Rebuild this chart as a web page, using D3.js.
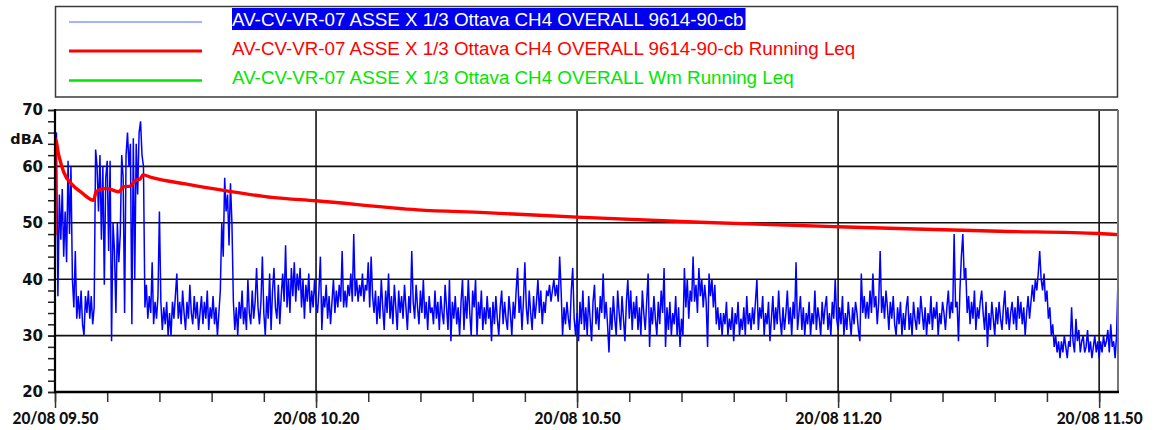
<!DOCTYPE html>
<html>
<head>
<meta charset="utf-8">
<script src="https://cdn.jsdelivr.net/npm/d3@7"></script>
<style>
  html, body { margin: 0; padding: 0; background: #fff; }
  svg { display: block; }
</style>
</head>
<body>
<svg id="chart" width="1159" height="430"></svg>
<script>
// ---- data -------------------------------------------------------------
const seriesNames = [
  "AV-CV-VR-07 ASSE X 1/3 Ottava CH4 OVERALL 9614-90-cb",
  "AV-CV-VR-07 ASSE X 1/3 Ottava CH4 OVERALL 9614-90-cb Running Leq",
  "AV-CV-VR-07 ASSE X 1/3 Ottava CH4 OVERALL Wm Running Leq"
];
const seriesColors = ["#0000ff", "#ff0000", "#00e600"];

// measurement start and sampling step of the level record
const startTime = new Date(2021, 7, 20, 9, 50, 0);
const sampleSeconds = 10;

// sound level, dBA, one value every 10 s from 20/08 09.50
const levelValues = [
  65,66,37,55,47,56,44,52,43,61,48,60,40,35,45,33,37,33,38,32,
  30,37,34,38,33,37,32,35,63,60,52,62,47,60,39,58,61,45,61,29,
  50,45,34,50,43,48,62,58,34,62,66,60,64,32,65,40,64,55,66,68,
  62,60,35,39,33,37,34,43,32,36,33,37,52,36,31,35,32,36,30,34,
  30,36,33,37,41,33,36,32,38,34,31,36,33,39,34,32,37,33,36,31,
  34,37,32,36,33,38,31,35,33,37,32,35,30,34,38,50,44,58,52,55,
  46,57,50,36,31,35,30,36,33,38,32,35,31,40,34,32,38,33,36,42,
  35,32,36,44,34,30,37,33,41,31,38,42,35,33,39,32,37,41,36,46,
  35,40,34,42,37,43,36,41,38,42,35,40,33,39,36,41,34,38,35,40,
  36,34,38,44,31,37,35,39,33,37,32,36,40,34,38,35,39,36,45,35,
  38,35,39,37,41,36,48,37,40,36,39,37,41,36,39,38,43,35,44,37,
  34,38,32,37,33,40,35,31,38,34,41,33,37,32,39,35,31,38,34,37,
  33,39,35,31,37,34,45,36,33,39,35,32,38,34,40,33,36,31,37,34,
  35,32,38,33,36,31,37,34,32,39,35,31,40,29,36,33,37,32,35,30,
  36,40,31,37,33,40,34,30,38,35,40,30,36,33,38,31,35,32,37,33,
  35,29,36,32,37,33,30,35,38,32,36,33,31,37,34,30,36,33,38,42,
  34,37,31,36,43,35,32,38,34,31,37,33,36,40,34,38,32,36,34,38,
  37,39,36,38,40,37,39,36,44,38,30,35,32,36,33,31,38,42,33,30,
  34,29,36,32,38,31,35,30,37,33,29,36,39,32,35,31,37,34,41,33,
  36,32,27,35,31,37,33,30,38,34,31,37,33,29,36,40,33,38,31,36,
  33,37,31,35,30,38,34,31,36,41,28,35,32,37,33,30,36,32,38,34,
  42,28,35,31,36,30,34,32,37,30,35,28,33,30,42,35,40,33,38,36,
  44,36,39,34,42,37,40,35,39,36,28,41,37,40,35,39,32,35,31,34,
  30,34,32,36,30,33,31,35,29,34,32,36,30,33,31,35,30,37,32,34,
  31,35,32,36,40,31,35,33,37,30,34,32,36,29,33,37,31,35,32,38,
  33,30,35,31,34,38,32,35,30,36,33,43,31,34,37,31,35,30,34,32,
  36,30,34,32,38,31,35,33,30,36,32,35,37,31,34,30,36,33,40,33,
  31,35,32,37,30,34,31,36,33,30,35,32,36,34,31,29,41,34,37,33,
  36,33,38,34,41,35,37,32,36,45,34,37,33,38,35,31,36,33,37,32,
  30,35,32,36,30,34,31,35,37,31,34,30,36,33,31,35,32,37,34,31,
  35,30,34,32,37,31,35,33,36,30,34,32,36,34,31,35,38,33,36,34,
  48,35,36,29,38,44,48,40,42,34,37,32,36,33,38,31,35,33,36,38,
  34,31,36,28,34,31,36,33,30,35,32,36,33,31,35,38,32,35,31,34,
  36,32,35,31,37,33,36,32,35,30,34,37,33,36,39,36,40,38,41,45,
  40,38,41,36,38,33,35,30,32,28,30,27,29,26,29,27,30,28,26,29,
  28,35,29,27,33,29,31,27,29,30,27,28,31,27,29,26,28,30,27,29,
  26,29,27,30,28,29,31,27,32,28,29,26,30,40
];

// running Leq, dBA, at minutes after 09.50
const leqMinutes = [0, 0.03, 0.43, 1.0, 1.95, 3.1, 4.45, 4.71, 5.02, 5.98, 7.32, 7.9, 8.66, 9.23, 9.8, 10.1,
  11.15, 14.98, 19.57, 24.94, 30, 41.7, 49.4, 60, 74.1, 90, 98.9, 108.6, 120, 122.17];
const leqValues = [47.8, 64.9, 62.0, 59.0, 56.8, 55.3, 54.0, 55.5, 55.8, 56.1, 55.5, 56.4, 56.5, 57.5, 57.8, 58.5,
  58.0, 56.9, 55.7, 54.5, 53.9, 52.3, 51.8, 51.0, 50.1, 49.3, 48.9, 48.5, 48.1, 47.9];

const yTicks = [20, 30, 40, 50, 60, 70];
const yTickLabels = ["20", "30", "40", "50", "60", "70"];
const yUnit = "dBA";
const xTickMinutes = [0, 30, 60, 90, 120];
const xTickLabels = ["20/08 09.50", "20/08 10.20", "20/08 10.50", "20/08 11.20", "20/08 11.50"];
const xMinorStep = 6; // minutes between minor ticks

// ---- layout -------------------------------------------------------------
const plot = { left: 55, right: 1118, top: 110, bottom: 392 };
const svg = d3.select("#chart");

const atMinute = m => new Date(+startTime + m * 60000);
const endTime = new Date(+startTime + (levelValues.length - 1) * sampleSeconds * 1000);

const x = d3.scaleTime().domain([startTime, endTime]).range([plot.left, plot.right]);
const y = d3.scaleLinear().domain([20, 70]).range([plot.bottom, plot.top]);

svg.append("defs").append("clipPath").attr("id", "plot-clip")
  .append("rect")
  .attr("x", plot.left).attr("y", plot.top)
  .attr("width", plot.right - plot.left).attr("height", plot.bottom - plot.top);

// ---- legend -------------------------------------------------------------
const legend = svg.append("g");
legend.append("rect")
  .attr("x", 55.5).attr("y", 6.5).attr("width", 1062).attr("height", 90.5)
  .attr("fill", "#fff").attr("stroke", "#3a3a3a").attr("stroke-width", 1.5);

const legendRows = [26, 55, 84];
const legendLineY = [22, 51, 80.5];
const legendLineW = [1.2, 3.2, 2.6];
const legendSwatch = ["#4466ff", seriesColors[1], seriesColors[2]];

seriesNames.forEach((name, i) => {
  legend.append("line")
    .attr("x1", 69).attr("x2", 202)
    .attr("y1", legendLineY[i]).attr("y2", legendLineY[i])
    .attr("stroke", legendSwatch[i]).attr("stroke-width", legendLineW[i]);
  const t = legend.append("text")
    .attr("x", 232).attr("y", legendRows[i])
    .attr("font-family", "'Liberation Sans', Arial, sans-serif")
    .attr("font-size", 18.8)
    .attr("fill", i === 0 ? "#fff" : seriesColors[i])
    .text(name);
  if (i === 0) {
    const bb = t.node().getBBox();
    legend.insert("rect", function () { return t.node(); })
      .attr("x", 232).attr("y", 8)
      .attr("width", bb.width + 2).attr("height", 22)
      .attr("fill", "#0000ee");
  }
});

// ---- grid -------------------------------------------------------------
const grid = svg.append("g").attr("stroke", "#111").attr("stroke-width", 1.6);
yTicks.filter(v => v > 20 && v < 70).forEach(v => {
  grid.append("line")
    .attr("x1", plot.left).attr("x2", plot.right)
    .attr("y1", y(v)).attr("y2", y(v));
});
xTickMinutes.filter(m => m > 0).forEach(m => {
  grid.append("line")
    .attr("x1", x(atMinute(m))).attr("x2", x(atMinute(m)))
    .attr("y1", plot.top).attr("y2", plot.bottom);
});

// ---- series -------------------------------------------------------------
const data = svg.append("g").attr("clip-path", "url(#plot-clip)");

const levelLine = d3.line()
  .x((d, i) => x(new Date(+startTime + i * sampleSeconds * 1000)))
  .y(d => y(d));
data.append("path")
  .datum(levelValues)
  .attr("fill", "none")
  .attr("stroke", seriesColors[0])
  .attr("stroke-width", 1.5)
  .attr("stroke-linejoin", "miter")
  .attr("d", levelLine);

const leqLine = d3.line()
  .x(d => x(atMinute(d[0])))
  .y(d => y(d[1]))
  .curve(d3.curveMonotoneX);
data.append("path")
  .datum(leqMinutes.map((m, i) => [m, leqValues[i]]))
  .attr("fill", "none")
  .attr("stroke", seriesColors[1])
  .attr("stroke-width", 3.4)
  .attr("stroke-linejoin", "round")
  .attr("d", leqLine);

// ---- frame -------------------------------------------------------------
svg.append("line")
  .attr("x1", plot.left).attr("x2", plot.right)
  .attr("y1", plot.top).attr("y2", plot.top)
  .attr("stroke", "#555").attr("stroke-width", 2);
svg.append("line")
  .attr("x1", plot.right).attr("x2", plot.right)
  .attr("y1", plot.top).attr("y2", plot.bottom)
  .attr("stroke", "#777").attr("stroke-width", 2);

// ---- axes -------------------------------------------------------------
const yMinor = svg.append("g").attr("transform", `translate(${plot.left},0)`)
  .call(d3.axisLeft(y).tickValues(d3.range(20, 71, 2)).tickSize(7).tickFormat(""));
const yMajor = svg.append("g").attr("transform", `translate(${plot.left},0)`)
  .call(d3.axisLeft(y).tickValues(yTicks).tickSize(7).tickPadding(5)
    .tickFormat((d, i) => yTickLabels[i]));
[yMinor, yMajor].forEach(g => {
  g.select(".domain").remove();
  g.selectAll(".tick line").attr("stroke", "#222").attr("stroke-width", 1.5);
});
yMajor.selectAll("text")
  .attr("font-family", "'DejaVu Sans', Verdana, sans-serif")
  .attr("font-weight", "bold").attr("font-size", 15).attr("fill", "#111");

svg.append("text")
  .attr("x", 43).attr("y", 143.5).attr("text-anchor", "end")
  .attr("font-family", "'DejaVu Sans', Verdana, sans-serif")
  .attr("font-weight", "bold").attr("font-size", 14.5).attr("fill", "#111")
  .text(yUnit);

const minorTimes = d3.range(0, 121, xMinorStep).map(atMinute);
const xMinor = svg.append("g").attr("transform", `translate(0,${plot.bottom})`)
  .call(d3.axisBottom(x).tickValues(minorTimes).tickSize(10).tickFormat(""));
const xMajor = svg.append("g").attr("transform", `translate(0,${plot.bottom})`)
  .call(d3.axisBottom(x).tickValues(xTickMinutes.map(atMinute)).tickSize(16).tickPadding(4)
    .tickFormat((d, i) => xTickLabels[i]));
[xMinor, xMajor].forEach(g => {
  g.select(".domain").remove();
  g.selectAll(".tick line").attr("stroke", "#333").attr("stroke-width", 1.5);
});
xMajor.selectAll("text")
  .attr("font-family", "Lato, 'Liberation Sans', sans-serif")
  .attr("font-weight", "900").attr("font-size", 17.5).attr("fill", "#111")
  .attr("textLength", 86).attr("lengthAdjust", "spacingAndGlyphs");

// axis lines on the left and bottom
svg.append("line")
  .attr("x1", plot.left).attr("x2", plot.left)
  .attr("y1", plot.top - 1).attr("y2", plot.bottom + 1)
  .attr("stroke", "#000").attr("stroke-width", 2.2);
svg.append("line")
  .attr("x1", plot.left - 1).attr("x2", plot.right + 1)
  .attr("y1", plot.bottom).attr("y2", plot.bottom)
  .attr("stroke", "#000").attr("stroke-width", 2.4);
</script>
</body>
</html>
